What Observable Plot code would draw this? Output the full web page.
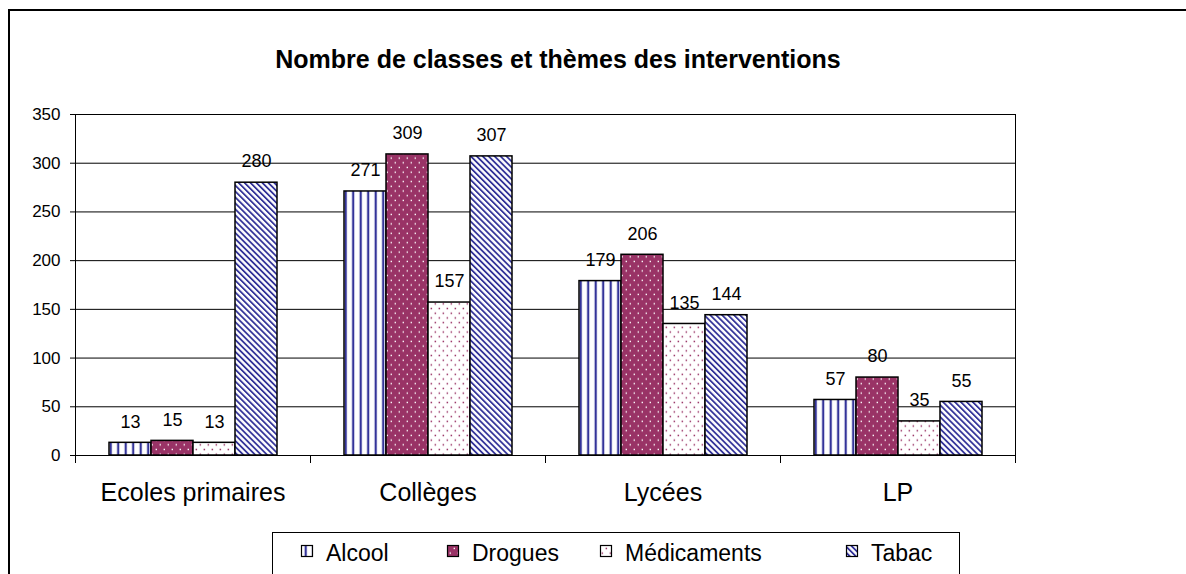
<!DOCTYPE html>
<html><head><meta charset="utf-8">
<script src="https://cdn.jsdelivr.net/npm/d3@7"></script>
<script src="https://cdn.jsdelivr.net/npm/@observablehq/plot@0.6"></script>
<style>
html,body{margin:0;padding:0;background:#fff;width:1186px;height:574px;overflow:hidden;font-family:"Liberation Sans",Arial,sans-serif;}
#frame{position:absolute;left:8px;top:9px;width:1300px;height:700px;border-top:2px solid #000;border-left:2px solid #000;box-sizing:border-box;}
#title{position:absolute;left:0;width:1116px;top:45px;text-align:center;font-weight:bold;font-size:25px;line-height:28px;color:#000;}
#chart{position:absolute;left:0;top:90px;}
#legend{position:absolute;left:272px;top:532px;}
#defs{position:absolute;left:0;top:0;}
</style></head>
<body>
<svg id="defs" width="0" height="0">
  <defs>
    <pattern id="p-alcool" patternUnits="userSpaceOnUse" width="7.5" height="10">
      <rect width="7.5" height="10" fill="#fff"/>
      <rect x="2.6" y="0" width="2.2" height="10" fill="#333399"/>
    </pattern>
    <pattern id="p-drogues" patternUnits="userSpaceOnUse" width="8" height="9.4">
      <rect width="8" height="9.4" fill="#993366"/>
      <rect x="1.6" y="1.6" width="1.4" height="1.4" fill="#fff"/>
      <rect x="5.6" y="6.3" width="1.4" height="1.4" fill="#fff"/>
    </pattern>
    <pattern id="p-medicaments" patternUnits="userSpaceOnUse" width="8" height="9.4">
      <rect width="8" height="9.4" fill="#fff"/>
      <rect x="1.6" y="1.6" width="1.5" height="1.5" fill="#993366"/>
      <rect x="5.6" y="6.3" width="1.5" height="1.5" fill="#993366"/>
    </pattern>
    <pattern id="p-tabac" patternUnits="userSpaceOnUse" width="4.2" height="10" patternTransform="rotate(-45)">
      <rect width="4.2" height="10" fill="#fff"/>
      <rect x="0" y="0" width="1.8" height="10" fill="#333399"/>
    </pattern>
  </defs>
</svg>
<div id="frame"></div>
<div id="title">Nombre de classes et thèmes des interventions</div>
<div id="chart"></div>
<div id="legend"></div>
<script>
const categories = ["Ecoles primaires", "Collèges", "Lycées", "LP"];
const series = ["Alcool", "Drogues", "Médicaments", "Tabac"];
const alcool = [13, 271, 179, 57];
const drogues = [15, 309, 206, 80];
const medicaments = [13, 157, 135, 35];
const tabac = [280, 307, 144, 55];
const yTicks = [0, 50, 100, 150, 200, 250, 300, 350];

const seriesValues = [alcool, drogues, medicaments, tabac];
const patternOf = {
  "Alcool": "url(#p-alcool)",
  "Drogues": "url(#p-drogues)",
  "Médicaments": "url(#p-medicaments)",
  "Tabac": "url(#p-tabac)"
};
const rows = [];
categories.forEach((c, i) => {
  seriesValues.forEach((arr, j) => rows.push({cat: c, series: series[j], value: arr[i]}));
});

const font = '"Liberation Sans", Arial, sans-serif';
const chart = Plot.plot({
  width: 1186, height: 410,
  marginTop: 24, marginBottom: 45, marginLeft: 73, marginRight: 170,
  style: {background: "none", fontFamily: font, color: "#000", overflow: "visible"},
  fx: {domain: categories, padding: 0, label: null},
  x: {domain: series, paddingInner: 0, paddingOuter: 0.742, axis: null},
  y: {domain: [0, 350], label: null},
  color: {type: "identity"},
  marks: [
    Plot.gridY(yTicks, {stroke: "#000", strokeOpacity: 1, strokeWidth: 1}),
    Plot.axisY(yTicks, {tickSize: 5, tickPadding: 10, fontSize: 17, label: null, stroke: "#000"}),
    Plot.axisFx({anchor: "bottom", tickSize: 0, tickPadding: 28, fontSize: 25, label: null}),
    Plot.barY(rows, {fx: "cat", x: "series", y: "value", fill: d => patternOf[d.series], stroke: "#000", strokeWidth: 1.5}),
    Plot.ruleY([0], {stroke: "#000"}),
    Plot.text(rows, {fx: "cat", x: "series", y: "value", text: d => String(d.value), dy: -21, fontSize: 18, fill: "#000"})
  ]
});
document.getElementById("chart").appendChild(chart);

// axis line, right border and category boundary ticks from the fx / y scales
const fx = chart.scale("fx");
const ys = chart.scale("y");
const y0 = ys.apply(0), yTop = ys.apply(350);
const edges = categories.map(c => fx.apply(c)).concat([fx.apply(categories[categories.length - 1]) + fx.bandwidth]);
const g = d3.select(chart).append("g").attr("stroke", "#000").attr("stroke-width", 1);
edges.forEach((x, i) => {
  const xx = Math.round(x) + 0.5;
  const top = (i === 0 || i === edges.length - 1) ? yTop : y0;
  g.append("line").attr("x1", xx).attr("x2", xx).attr("y1", top).attr("y2", y0 + 8);
});

// legend
const legendItems = [
  {s: "Alcool", x: 29},
  {s: "Drogues", x: 175},
  {s: "Médicaments", x: 328},
  {s: "Tabac", x: 574}
];
const lg = d3.select("#legend").append("svg").attr("width", 700).attr("height", 60)
  .style("font-family", font);
lg.append("rect").attr("x", 0.5).attr("y", 0.5).attr("width", 687).attr("height", 80)
  .attr("fill", "#fff").attr("stroke", "#000");
legendItems.forEach(it => {
  lg.append("rect").attr("x", it.x + 0.5).attr("y", 13.5).attr("width", 11).attr("height", 11)
    .attr("fill", patternOf[it.s]).attr("stroke", "#000").attr("stroke-width", 1.2);
  lg.append("text").attr("x", it.x + 25).attr("y", 29).attr("font-size", 23).attr("fill", "#000").text(it.s);
});
</script>
</body></html>
